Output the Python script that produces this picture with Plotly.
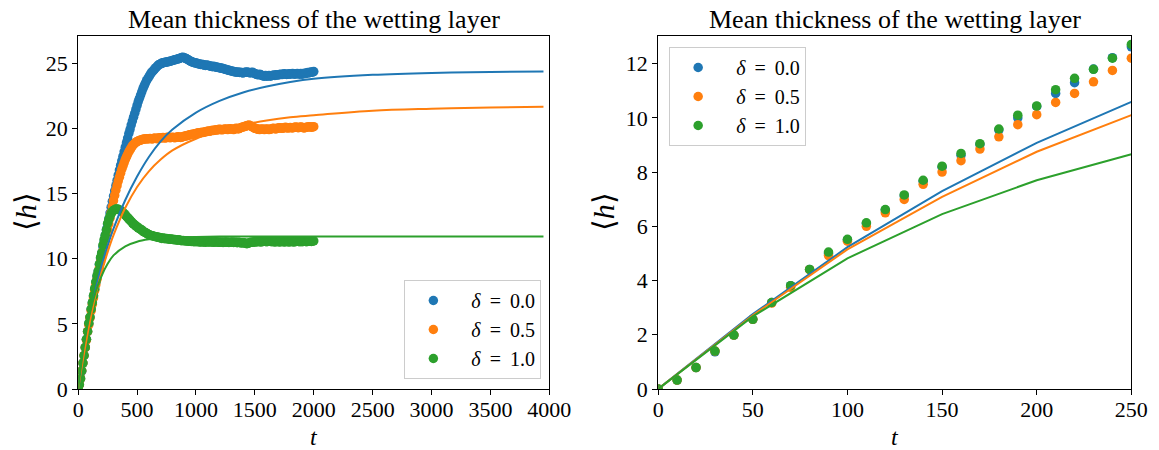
import plotly.graph_objects as go

# ---------------- data ----------------
t_data = list(range(0, 2001, 10))

h_delta00 = [
    0, 0.33, 0.79, 1.37, 1.99, 2.57, 3.19, 3.81, 4.41, 5.0,
    5.5, 6.1, 6.6, 7.13, 7.66, 8.18, 8.62, 9.02, 9.55, 10.0,
    10.42, 10.9, 11.3, 11.8, 12.22, 12.62, 13.05, 13.5, 13.95, 14.4,
    14.8, 15.2, 15.6, 16.0, 16.4, 16.8, 17.15, 17.5, 17.85, 18.2,
    18.55, 18.9, 19.25, 19.6, 19.9, 20.25, 20.55, 20.85, 21.15, 21.45,
    21.75, 22.05, 22.3, 22.55, 22.8, 23.05, 23.25, 23.45, 23.65, 23.8,
    23.95, 24.1, 24.25, 24.35, 24.45, 24.55, 24.65, 24.75, 24.85, 24.9,
    24.95, 25.0, 25.02, 25.05, 25.06, 25.08, 25.1, 25.12, 25.15, 25.17,
    25.2, 25.22, 25.25, 25.28, 25.3, 25.33, 25.36, 25.4, 25.43, 25.45,
    25.42, 25.38, 25.33, 25.28, 25.22, 25.17, 25.12, 25.08, 25.05, 25.02,
    25.0, 24.98, 24.95, 24.93, 24.9, 24.92, 24.88, 24.85, 24.82, 24.85,
    24.83, 24.8, 24.78, 24.75, 24.72, 24.75, 24.73, 24.7, 24.68, 24.66,
    24.65, 24.62, 24.6, 24.58, 24.55, 24.52, 24.5, 24.48, 24.45, 24.42,
    24.4, 24.38, 24.35, 24.33, 24.3, 24.32, 24.3, 24.28, 24.3, 24.27,
    24.25, 24.28, 24.3, 24.32, 24.3, 24.28, 24.25, 24.28, 24.3, 24.25,
    24.2, 24.15, 24.12, 24.1, 24.15, 24.1, 24.05, 24.02, 24.0, 24.05,
    24.0, 24.02, 24.05, 24.0, 24.03, 24.05, 24.08, 24.05, 24.1, 24.08,
    24.1, 24.12, 24.15, 24.12, 24.15, 24.18, 24.15, 24.13, 24.15, 24.18,
    24.15, 24.18, 24.2, 24.17, 24.15, 24.18, 24.2, 24.18, 24.15, 24.2,
    24.15, 24.18, 24.22, 24.2, 24.25, 24.28, 24.25, 24.3, 24.32, 24.3,
    24.35,
]

h_delta05 = [
    0, 0.33, 0.79, 1.40, 1.99, 2.57, 3.17, 3.75, 4.4, 4.92,
    5.45, 6.0, 6.5, 6.99, 7.55, 8.0, 8.42, 8.85, 9.3, 9.75,
    10.12, 10.57, 10.9, 11.33, 11.75, 12.2, 12.65, 13.1, 13.55, 14.0,
    14.45, 14.85, 15.25, 15.6, 15.95, 16.25, 16.55, 16.85, 17.1, 17.35,
    17.6, 17.8, 18.0, 18.2, 18.35, 18.5, 18.65, 18.75, 18.85, 18.92,
    18.98, 19.03, 19.07, 19.1, 19.12, 19.15, 19.17, 19.18, 19.2, 19.18,
    19.2, 19.22, 19.2, 19.18, 19.22, 19.25, 19.22, 19.2, 19.25, 19.28,
    19.25, 19.28, 19.3, 19.27, 19.25, 19.3, 19.32, 19.3, 19.28, 19.3,
    19.32, 19.3, 19.28, 19.3, 19.33, 19.35, 19.32, 19.3, 19.33, 19.36,
    19.38, 19.4, 19.42, 19.45, 19.48, 19.5, 19.52, 19.55, 19.55, 19.58,
    19.6, 19.62, 19.65, 19.63, 19.66, 19.7, 19.68, 19.7, 19.73, 19.75,
    19.78, 19.8, 19.78, 19.82, 19.85, 19.83, 19.85, 19.88, 19.86, 19.9,
    19.92, 19.9, 19.88, 19.9, 19.93, 19.95, 19.92, 19.9, 19.94, 19.97,
    19.95, 19.93, 19.9, 19.95, 20.0, 19.98, 19.95, 20.0, 20.05, 20.08,
    20.1, 20.12, 20.15, 20.2, 20.22, 20.25, 20.2, 20.15, 20.1, 20.05,
    20.0, 19.98, 19.95, 19.92, 19.9, 19.93, 19.95, 19.92, 19.9, 19.93,
    19.95, 19.92, 19.9, 19.93, 19.95, 19.98, 20.0, 19.97, 19.95, 20.0,
    20.02, 20.05, 20.03, 20.0, 20.02, 20.05, 20.08, 20.05, 20.02, 20.05,
    20.07, 20.05, 20.03, 20.06, 20.08, 20.1, 20.07, 20.05, 20.08, 20.1,
    20.08, 20.05, 20.03, 20.06, 20.08, 20.1, 20.12, 20.1, 20.08, 20.1,
    20.12,
]

h_delta10 = [
    0, 0.33, 0.79, 1.40, 1.99, 2.57, 3.19, 3.81, 4.41, 5.05,
    5.52, 6.13, 6.62, 7.16, 7.7, 8.22, 8.69, 9.05, 9.59, 10.1,
    10.44, 11.04, 11.46, 11.79, 12.2, 12.71, 13.0, 13.25, 13.45, 13.6,
    13.7, 13.76, 13.8, 13.8, 13.78, 13.74, 13.7, 13.63, 13.55, 13.45,
    13.35, 13.25, 13.15, 13.05, 12.95, 12.85, 12.75, 12.65, 12.6, 12.5,
    12.45, 12.35, 12.3, 12.25, 12.2, 12.1, 12.05, 12.0, 11.95, 11.9,
    11.85, 11.8, 11.78, 11.75, 11.72, 11.7, 11.68, 11.66, 11.64, 11.62,
    11.6, 11.55, 11.58, 11.56, 11.52, 11.55, 11.53, 11.5, 11.48, 11.5,
    11.48, 11.45, 11.47, 11.44, 11.42, 11.45, 11.43, 11.4, 11.38, 11.4,
    11.38, 11.36, 11.38, 11.35, 11.33, 11.35, 11.32, 11.34, 11.3, 11.32,
    11.3, 11.32, 11.3, 11.28, 11.3, 11.27, 11.3, 11.28, 11.26, 11.28,
    11.3, 11.28, 11.27, 11.3, 11.28, 11.25, 11.28, 11.3, 11.27, 11.25,
    11.26, 11.28, 11.25, 11.24, 11.27, 11.25, 11.28, 11.26, 11.24, 11.26,
    11.25, 11.27, 11.24, 11.26, 11.25, 11.22, 11.25, 11.24, 11.2, 11.22,
    11.2, 11.22, 11.18, 11.15, 11.17, 11.2, 11.24, 11.26, 11.25, 11.28,
    11.3, 11.28, 11.3, 11.32, 11.3, 11.28, 11.3, 11.32, 11.34, 11.32,
    11.3, 11.32, 11.35, 11.33, 11.3, 11.32, 11.3, 11.28, 11.3, 11.32,
    11.3, 11.28, 11.3, 11.32, 11.3, 11.28, 11.3, 11.32, 11.3, 11.28,
    11.3, 11.32, 11.3, 11.28, 11.3, 11.32, 11.34, 11.32, 11.3, 11.32,
    11.3, 11.32, 11.34, 11.32, 11.3, 11.33, 11.35, 11.33, 11.32, 11.35,
    11.36,
]

# fitted curves shown in the left panel
t_fit = [0, 50, 100, 150, 200, 250, 300, 400, 500, 600, 700, 800,
         1000, 1200, 1400, 1600, 1800, 2000, 2500, 3000, 3500, 3950]
fit_delta00 = [0, 2.9, 5.5, 7.7, 9.5, 11.0, 12.3, 14.5, 16.3, 17.8, 19.0, 19.9,
               21.2, 22.1, 22.75, 23.2, 23.55, 23.8, 24.1, 24.25, 24.32, 24.35]
fit_delta05 = [0, 2.75, 5.2, 7.3, 9.0, 10.5, 11.8, 13.9, 15.5, 16.7, 17.6, 18.3,
               19.2, 19.8, 20.25, 20.6, 20.85, 21.0, 21.35, 21.5, 21.6, 21.65]
fit_delta10 = [0, 3.4, 5.8, 7.5, 8.7, 9.6, 10.25, 10.95, 11.3, 11.48, 11.58, 11.63,
               11.67, 11.69, 11.7, 11.7, 11.7, 11.7, 11.7, 11.7, 11.7, 11.7]

# model curves shown in the right panel (early times)
t_model = [0, 50, 100, 150, 200, 250]
model_delta00 = [0, 2.76, 5.23, 7.30, 9.08, 10.59]
model_delta05 = [0, 2.72, 5.15, 7.09, 8.75, 10.10]
model_delta10 = [0, 2.68, 4.82, 6.45, 7.70, 8.66]

labels = ["\u2002<i>δ</i> \u2009=\u2009 0.0", "\u2002<i>δ</i> \u2009=\u2009 0.5",
          "\u2002<i>δ</i> \u2009=\u2009 1.0"]
colors = ["#1f77b4", "#ff7f0e", "#2ca02c"]

# ---------------- figure ----------------
W, H = 1159, 450          # reference picture size (positions below are in its pixels)
FIG_W, FIG_H = 1185, 463  # page size of the figure
FONT = "Liberation Serif"
fig = go.Figure()

data_sets = [h_delta00, h_delta05, h_delta10]
fit_sets = [fit_delta00, fit_delta05, fit_delta10]
model_sets = [model_delta00, model_delta05, model_delta10]

n_right = sum(1 for t in t_data if t <= 250)

for i in range(3):
    fig.add_trace(go.Scatter(
        x=t_data, y=data_sets[i], mode="markers", name=labels[i],
        marker=dict(color=colors[i], size=9.5), xaxis="x", yaxis="y",
        legend="legend", showlegend=True))
for i in range(3):
    fig.add_trace(go.Scatter(
        x=t_fit, y=fit_sets[i], mode="lines", line=dict(color=colors[i], width=2, shape="spline"),
        xaxis="x", yaxis="y", showlegend=False))

for i in range(3):
    fig.add_trace(go.Scatter(
        x=t_data[:n_right], y=data_sets[i][:n_right], mode="markers", name=labels[i],
        marker=dict(color=colors[i], size=9.5), xaxis="x2", yaxis="y2",
        legend="legend2", showlegend=True))
for i in range(3):
    fig.add_trace(go.Scatter(
        x=t_model, y=model_sets[i], mode="lines", line=dict(color=colors[i], width=2),
        xaxis="x2", yaxis="y2", showlegend=False))

def px_x(p):
    return (p - 3.7) / W

def px_y(p):
    return 1 - p / H

axis_common = dict(showline=True, linecolor="black", linewidth=1, mirror=True,
                   ticks="outside", ticklen=5, tickwidth=1, tickcolor="black",
                   showgrid=False, zeroline=False,
                   tickfont=dict(family=FONT, size=22, color="black"))

ydom = [px_y(389), px_y(36)]
legend_common = dict(bgcolor="rgba(255,255,255,0.8)", bordercolor="#cccccc", borderwidth=1,
                     font=dict(family=FONT, size=20, color="black"), itemwidth=46,
                     tracegroupgap=0)
fig.update_layout(
    width=FIG_W, height=FIG_H,
    margin=dict(l=0, r=0, t=0, b=0, pad=0),
    paper_bgcolor="white", plot_bgcolor="white",
    xaxis=dict(domain=[px_x(76), px_x(548)], range=[0, 4000], anchor="y", ticklabelstandoff=-4,
               tickvals=[0, 500, 1000, 1500, 2000, 2500, 3000, 3500, 4000], **axis_common),
    yaxis=dict(domain=ydom, range=[0, 27.08], anchor="x",
               tickvals=[0, 5, 10, 15, 20, 25], **axis_common),
    xaxis2=dict(domain=[px_x(657), px_x(1131)], range=[0, 250], anchor="y2", ticklabelstandoff=-4,
                tickvals=[0, 50, 100, 150, 200, 250], **axis_common),
    yaxis2=dict(domain=ydom, range=[0, 13.02], anchor="x2",
                tickvals=[0, 2, 4, 6, 8, 10, 12], **axis_common),
    legend=dict(x=px_x(540), y=px_y(379), xanchor="right", yanchor="bottom", **legend_common),
    legend2=dict(x=px_x(668), y=px_y(47), xanchor="left", yanchor="top", **legend_common),
)

title_txt = "Mean thickness of the wetting layer"
for xc in (312, 894):
    fig.add_annotation(text=title_txt, x=px_x(xc), y=px_y(20), xref="paper", yref="paper",
                       showarrow=False, xanchor="center", yanchor="middle",
                       font=dict(family=FONT, size=26, color="black"))

for xc in (312, 894):
    fig.add_annotation(text="<i>t</i>", x=px_x(xc), y=px_y(437), xref="paper", yref="paper",
                       showarrow=False, xanchor="center", yanchor="middle",
                       font=dict(family=FONT, size=24, color="black"))
for xc in (24, 603):
    fig.add_annotation(text="⟨<i>h</i>⟩", x=px_x(xc), y=px_y(212), xref="paper", yref="paper",
                       showarrow=False, xanchor="center", yanchor="middle", textangle=-90,
                       font=dict(family=FONT, size=30, color="black"))

fig.write_html("out.html", config={"displayModeBar": False},
               post_script="document.body.style.margin='0';document.body.style.overflow='hidden';")
